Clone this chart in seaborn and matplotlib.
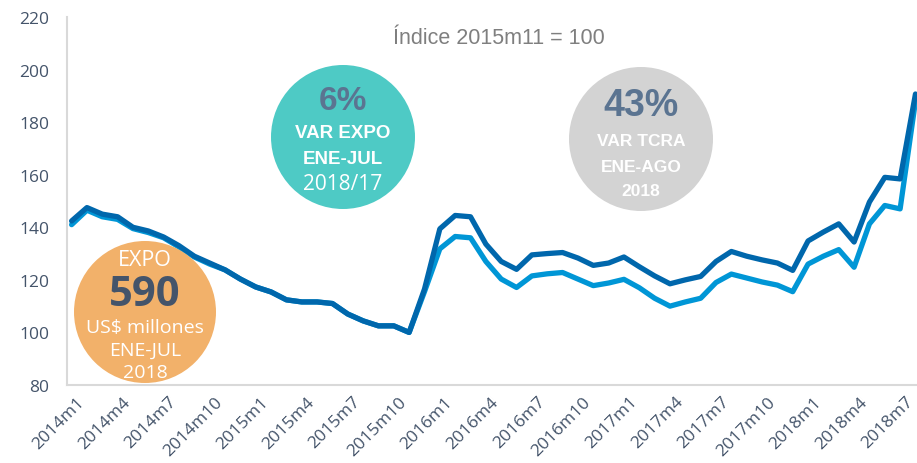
import pandas as pd
import matplotlib.pyplot as plt
import seaborn as sns
from matplotlib.patches import Ellipse
from matplotlib.transforms import ScaledTranslation

# monthly index, 2014m1 .. 2018m8 (2015m11 = 100)
anios = [2014, 2015, 2016, 2017, 2018]
periodos = [f"{a}m{m}" for a in anios for m in range(1, 13)][:56]

tcra = [142.4, 147.5, 145, 144, 140, 138.6, 136.3, 133, 129, 126.4,
        123.8, 120.3, 117.3, 115.4, 112.4, 111.6, 111.6, 111, 107, 104.4,
        102.5, 102.5, 100, 116.5, 139.4, 144.5, 144, 133.6, 127, 124,
        129.5, 130, 130.4, 128.3, 125.5, 126.4, 128.7, 125, 121.5, 118.5,
        120, 121.3, 127, 130.8, 129, 127.6, 126.4, 123.6, 134.8, 138.2,
        141.3, 134.4, 149.6, 159, 158.4, 190.7]
tcra_2 = [141, 146.5, 144, 143, 139.5, 138, 136, 132.5, 128.7, 126,
          123.8, 120.3, 117.3, 115.4, 112.4, 111.6, 111.6, 111, 107, 104.4,
          102.5, 102.5, 100, 115.5, 131.8, 136.5, 136, 127, 120.3, 117.1,
          121.5, 122.3, 122.8, 120.3, 117.8, 118.8, 120.2, 117, 113, 110,
          111.6, 113, 119, 122.2, 120.7, 119.2, 118, 115.5, 126, 129,
          131.5, 124.8, 141.3, 148.3, 147, 188]

tick_pos = list(range(0, 56, 3))
tick_lab = [periodos[i] for i in tick_pos]

df = pd.DataFrame({"mes": list(range(56)) * 2,
                   "valor": tcra + tcra_2,
                   "serie": ["TCRA"] * 56 + ["TCRA_2"] * 56})

sns.set_style("white")
plt.rcParams['font.family'] = ['Open Sans', 'DejaVu Sans']

fig = plt.figure(figsize=(9.17, 4.64), dpi=100)
ax = fig.add_axes([67/917, 78/464, 850/917, 368/464])

sns.lineplot(data=df, x="mes", y="valor", hue="serie", hue_order=["TCRA_2", "TCRA"],
             palette={"TCRA": "#0067AC", "TCRA_2": "#0096D6"},
             linewidth=3.8, legend=False, ax=ax,
             solid_joinstyle="round", solid_capstyle="round")

ax.set_xlim(-0.3, 55.1)
ax.set_ylim(80, 220)
ax.set_yticks(range(80, 221, 20))
ax.set_xticks(tick_pos)
ax.set_xticklabels(tick_lab, rotation=45, ha="right", va="top", rotation_mode="anchor")
ax.set_xlabel("")
ax.set_ylabel("")
ax.tick_params(axis="both", length=0, colors="#44546A")
ax.tick_params(axis="y", pad=13, labelsize=12.5)
ax.tick_params(axis="x", pad=6, labelsize=12.5)
for lab in ax.get_xticklabels():
    lab.set_transform(lab.get_transform() + ScaledTranslation(5/100, 0, fig.dpi_scale_trans))
for s in ["top", "right"]:
    ax.spines[s].set_visible(False)
for s in ["left", "bottom"]:
    ax.spines[s].set_color("#D9D9D9")
    ax.spines[s].set_linewidth(1.5)

fig.text(499/917, 1 - 39/464, "Índice 2015m11 = 100", ha="center", va="center",
         fontsize=15.5, color="#7F7F7F", family="Liberation Sans")

def burbuja(cx, cy, r, color):
    fig.patches.append(Ellipse((cx/917, 1 - cy/464), 2*r/917, 2*r/464,
                               transform=fig.transFigure, facecolor=color,
                               edgecolor="none", zorder=2))

def txt(x, y, s, size, color="white", weight="normal", fam="Open Sans"):
    fig.text(x/917, 1 - y/464, s, ha="center", va="center", fontsize=size,
             color=color, weight=weight, family=fam, zorder=3)

burbuja(343, 138, 72, "#4ECAC5")
txt(343, 101, "6%", 24, "#5B7491", "bold", "Liberation Sans")
txt(343, 133, "VAR EXPO", 13.5, weight="bold", fam="Liberation Sans")
txt(343, 160, "ENE-JUL", 13.5, weight="bold", fam="Liberation Sans")
txt(343, 184, "2018/17", 15)

burbuja(641, 140, 72, "#D3D3D3")
txt(641, 106, "43%", 27, "#5B7491", "bold", "Liberation Sans")
txt(641, 142, "VAR TCRA", 12.5, weight="bold", fam="Liberation Sans")
txt(641, 167, "ENE-AGO", 12.5, weight="bold", fam="Liberation Sans")
txt(641, 192, "2018", 12.5, weight="bold", fam="Liberation Sans")

burbuja(145, 313, 71, "#F2B16A")
txt(145, 261, "EXPO", 15.5)
txt(145, 295, "590", 30, "#44546A", "bold")
txt(145, 328, "US$ millones", 14)
txt(145, 351, "ENE-JUL", 14)
txt(145, 373, "2018", 14)

fig.savefig("out.png", dpi=100, facecolor="white")
